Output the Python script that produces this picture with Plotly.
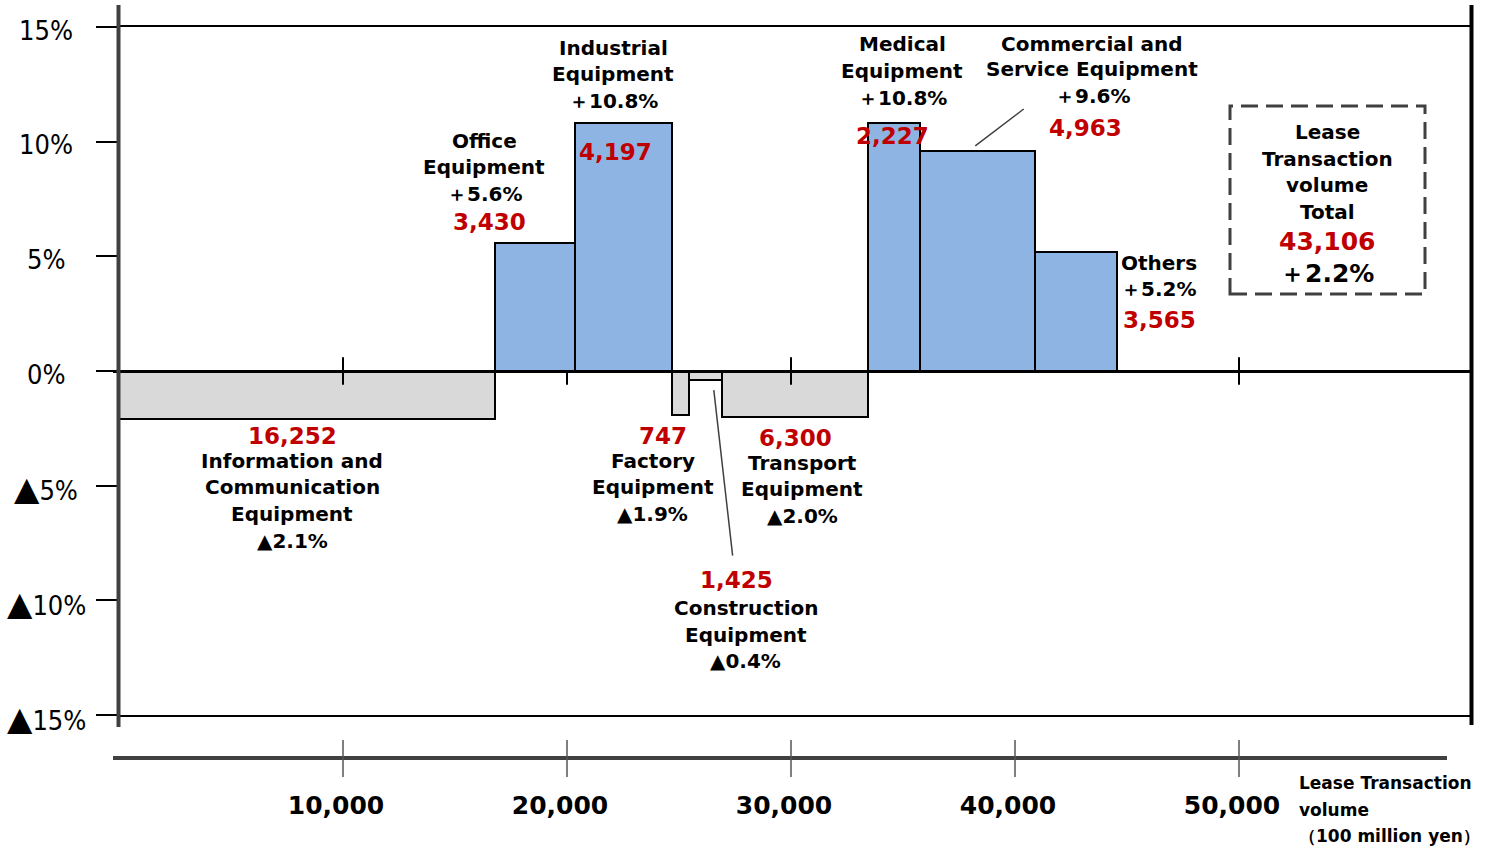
import plotly.graph_objects as go

# ---------------- data ----------------
category_lines = [
    ["Information and", "Communication", "Equipment"],
    ["Office", "Equipment"],
    ["Industrial", "Equipment"],
    ["Factory", "Equipment"],
    ["Construction", "Equipment"],
    ["Transport", "Equipment"],
    ["Medical", "Equipment"],
    ["Commercial and", "Service Equipment"],
    ["Others"],
]
volumes = [16252, 3430, 4197, 747, 1425, 6300, 2227, 4963, 3565]   # 100 million yen
growth = [-2.1, 5.6, 10.8, -1.9, -0.4, -2.0, 10.8, 9.6, 5.2]       # % YoY
total_growth = 2.2

ytick_vals = [15, 10, 5, 0, -5, -10, -15]
ytick_text = ["15%", "10%", "5%", "0%", "▲5%", "▲10%", "▲15%"]
xtick_vals = [10000, 20000, 30000, 40000, 50000]
xtick_text = ["10,000", "20,000", "30,000", "40,000", "50,000"]
zero_tick_vals = [10000, 20000, 30000, 50000]
total_label = ["Lease", "Transaction", "volume", "Total"]
axis_title_lines = ["Lease Transaction", "volume", "（100 million yen）"]

# ---------------- styling / layout ----------------
W, H = 1493, 847
RED = "#C00000"
BLUE = "#8EB4E3"
GRAY = "#D9D9D9"
DARK = "#404040"
FONT = "DejaVu Sans"
NARROW = "Liberation Sans Narrow, DejaVu Sans Condensed, Liberation Sans, sans-serif"


def px(x):
    return x / W


def py(y):
    return (H - y) / H


X_DOM = [px(119), px(1471)]
Y_DOM = [py(715), py(27)]
X_RANGE = [0, 58379]
Y_RANGE = [-15, 15]
X2_DOM = [px(113), px(1447)]
X2_RANGE = [-268, 59286]


def ypaper(v):
    return Y_DOM[0] + (v - Y_RANGE[0]) / (Y_RANGE[1] - Y_RANGE[0]) * (Y_DOM[1] - Y_DOM[0])


# cumulative positions
starts, ends = [], []
acc = 0
for v in volumes:
    starts.append(acc)
    acc += v
    ends.append(acc)
total = acc
centers = [(s + e) / 2 for s, e in zip(starts, ends)]


def fmt_growth(g):
    return ("＋" if g > 0 else "▲") + f"{abs(g):.1f}%"


# per-category label placement (pixel offsets from bar centre / bar tip):
# dy offsets for [name lines..., growth line, value line]; dx for black text and red text
label_pos = [
    dict(dy=[41.8, 67.8, 94.8, 121.8, 16.8], dxb=-15, dxr=-15),
    dict(dy=[-101.6, -75.6, -48.6, -20.6], dxb=-51, dxr=-46),
    dict(dy=[-75.3, -49.3, -22.3, 28.7], dxb=-10, dxr=-8),
    dict(dy=[46.4, 72.4, 99.4, 21.4], dxb=-28, dxr=-18),
    dict(dy=[227.8, 254.8, 280.8, 199.8], dxb=40, dxr=31),
    dict(dy=[46.1, 72.1, 99.1, 21.1], dxb=7, dxr=0),
    dict(dy=[-79.3, -52.3, -25.3, 12.7], dxb=8, dxr=-2),
    dict(dy=[-106.8, -81.8, -54.8, -22.8], dxb=115, dxr=108),
    dict(dy=[11.3, 37.3, 68.3], dxb=2, dxr=4, left=True),
]

fig = go.Figure()

fig.add_trace(go.Bar(
    x=centers,
    y=growth,
    width=volumes,
    marker=dict(color=[BLUE if g > 0 else GRAY for g in growth],
                line=dict(color="black", width=2)),
    hoverinfo="skip",
    showlegend=False,
))

# invisible trace to create the lower (volume) axis
fig.add_trace(go.Scatter(
    x=xtick_vals, y=[0] * len(xtick_vals), xaxis="x2", yaxis="y",
    mode="markers", marker=dict(opacity=0), hoverinfo="skip", showlegend=False,
))

annotations = []
black_font = dict(family=FONT, size=20, color="black", weight="bold")
red_font = dict(family=FONT, size=23, color=RED, weight="bold")

for i, names in enumerate(category_lines):
    pos = label_pos[i]
    lines = [(t, black_font, pos["dxb"]) for t in names]
    lines.append((fmt_growth(growth[i]), black_font, pos["dxb"]))
    lines.append((f"{volumes[i]:,}", red_font, pos["dxr"]))
    left = pos.get("left", False)
    ax_x = ends[i] if left else centers[i]
    for (txt, fnt, dx), dy in zip(lines, pos["dy"]):
        annotations.append(dict(
            x=ax_x, y=growth[i], xref="x", yref="y",
            text=txt, showarrow=False, font=fnt,
            xanchor="left" if left else "center", yanchor="middle",
            xshift=dx, yshift=-dy,
        ))

# leader lines (construction, commercial)
annotations.append(dict(
    x=centers[4], y=growth[4], xref="x", yref="y", text="",
    showarrow=True, arrowhead=0, arrowwidth=1.5, arrowcolor=DARK,
    ax=19, ay=167, xshift=8, yshift=-10,
))
annotations.append(dict(
    x=centers[7], y=growth[7], xref="x", yref="y", text="",
    showarrow=True, arrowhead=0, arrowwidth=1.5, arrowcolor=DARK,
    ax=50, ay=-38, xshift=-2, yshift=5,
))

# y tick labels (centred, with a large triangle for negatives)
for v, t in zip(ytick_vals, ytick_text):
    styled = t.replace("▲", "<span style='font-size:33px;font-family:DejaVu Sans'>▲</span>")
    annotations.append(dict(
        x=px(46), y=v, xref="paper", yref="y", text=styled, showarrow=False,
        font=dict(family=NARROW, size=27, color="black"),
        xanchor="center", yanchor="middle", yshift=-3,
    ))

# total box text
total_lines = [(t, black_font) for t in total_label]
total_lines.append((f"{total:,}", dict(family=FONT, size=25, color=RED, weight="bold")))
total_lines.append((fmt_growth(total_growth), dict(family=FONT, size=25, color="black", weight="bold")))
for (t, f), yy in zip(total_lines, [132, 159, 185, 212, 241, 273]):
    annotations.append(dict(
        x=px(1327), y=py(yy), xref="paper", yref="paper", text=t, showarrow=False,
        font=f, xanchor="center", yanchor="middle",
    ))

# axis title bottom right
for t, yy in zip(axis_title_lines, [783, 810, 836]):
    annotations.append(dict(
        x=px(1297), y=py(yy), xref="paper", yref="paper", text=t, showarrow=False,
        font=dict(family=FONT, size=17, color="black", weight="bold"),
        xanchor="left", yanchor="middle",
    ))

shapes = []
# thick vertical frame lines
shapes.append(dict(type="line", xref="paper", yref="paper", x0=px(118.5), x1=px(118.5),
                   y0=py(727), y1=py(5), line=dict(color=DARK, width=4), layer="above"))
shapes.append(dict(type="line", xref="paper", yref="paper", x0=px(1471.5), x1=px(1471.5),
                   y0=py(725), y1=py(5), line=dict(color="black", width=4), layer="above"))
# small ticks crossing the zero line (volume scale)
for v in zero_tick_vals:
    inside_pos_bar = any(s <= v <= e and g > 0 for s, e, g in zip(starts, ends, growth))
    shapes.append(dict(type="line", xref="x2", yref="paper", x0=v, x1=v,
                       y0=ypaper(-0.6), y1=ypaper(0 if v == 20000 else 0.6),
                       line=dict(color="black", width=2), layer="above"))
# ticks crossing the lower axis
for v in xtick_vals:
    shapes.append(dict(type="line", xref="x2", yref="paper", x0=v, x1=v,
                       y0=py(777), y1=py(740),
                       line=dict(color="#555555", width=1.5), layer="above"))
# dashed total box
shapes.append(dict(type="rect", xref="paper", yref="paper",
                   x0=px(1230), x1=px(1425), y0=py(294), y1=py(106),
                   line=dict(color=DARK, width=3, dash="17px,8px"),
                   fillcolor="rgba(0,0,0,0)", layer="above"))

fig.update_layout(
    width=W, height=H,
    margin=dict(l=0, r=0, t=0, b=0),
    paper_bgcolor="white", plot_bgcolor="rgba(0,0,0,0)",
    showlegend=False,
    bargap=0,
    xaxis=dict(domain=X_DOM, range=X_RANGE, showgrid=False, zeroline=False,
               showticklabels=False, ticks="", showline=True, mirror=True,
               linecolor="black", linewidth=2, fixedrange=True),
    yaxis=dict(domain=Y_DOM, range=Y_RANGE, showgrid=False, zeroline=True,
               zerolinecolor="black", zerolinewidth=3,
               tickvals=ytick_vals, ticks="outside", ticklen=22, tickwidth=2,
               tickcolor="black", showticklabels=False, showline=False, fixedrange=True),
    xaxis2=dict(domain=X2_DOM, range=X2_RANGE, anchor="free", position=py(758),
                showgrid=False, zeroline=False, showline=True, linecolor=DARK, linewidth=4,
                tickvals=xtick_vals, ticktext=xtick_text, ticks="",
                tickfont=dict(family=FONT, size=25, color="black", weight="bold"),
                ticklabelstandoff=24, ticklabelshift=-7, fixedrange=True),
    annotations=annotations,
    shapes=shapes,
)

fig.write_html(
    "out.html",
    config={"displayModeBar": False},
    post_script="document.body.style.margin='0px';document.body.style.overflow='hidden';",
)
